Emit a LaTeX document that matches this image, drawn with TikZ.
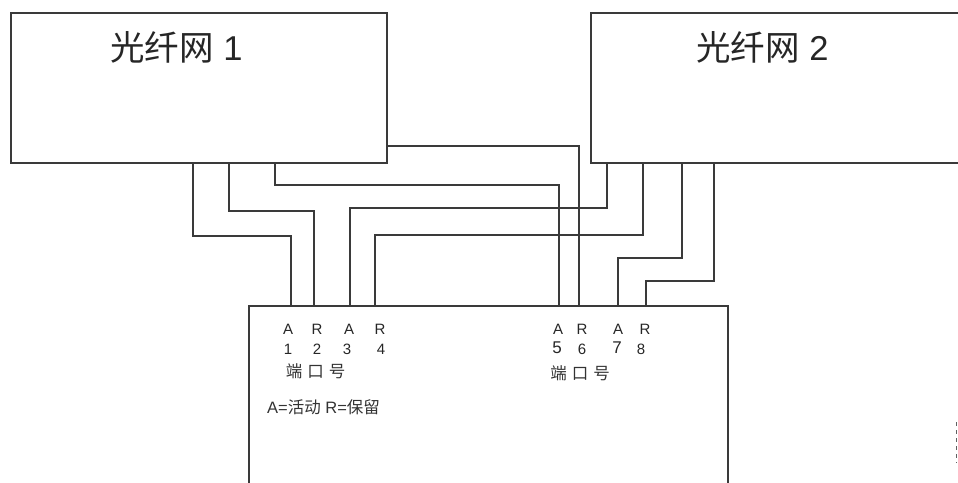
\documentclass[tikz,border=0pt]{standalone}
\usepackage{fontspec}
\setmainfont{Liberation Sans}
\newfontfamily\cjk{Noto Sans CJK SC}
\usetikzlibrary{positioning,calc}
\definecolor{ln}{HTML}{3A3A3A}
\tikzset{
  boxnode/.style={draw=ln, line width=1.2pt, rectangle, inner sep=0pt},
  wire/.style={draw=ln, line width=1.2pt},
  title/.style={font=\fontsize{34.5}{38}\selectfont, text=black!85, inner sep=0pt},
  portlbl/.style={font=\fontsize{15}{17}\selectfont, text=black!85, inner sep=0pt},
  cjklbl/.style={font=\fontsize{16.5}{18}\selectfont, text=black!80, inner sep=0pt},
}
\begin{document}
\begin{tikzpicture}[x=1pt,y=-1pt]
\useasboundingbox (0,0) rectangle (958,482);
\clip (0,0) rectangle (958,482);
% boxes
\node[boxnode, minimum width=376pt, minimum height=150pt] (net1) at (199,88) {};
\node[boxnode, minimum width=409pt, minimum height=150pt] (net2) at (795.5,88) {};
\node[boxnode, minimum width=479pt, minimum height=214pt] (sw) at (488.5,413) {};
% titles
\node[title] (t1) at (176.5,47) {{\cjk 光纤网} 1};
\node[title] (t2) at (762.5,47) {{\cjk 光纤网} 2};
% start points
\coordinate (a1) at (193,163);
\coordinate (a2) at (229,163);
\coordinate (a3) at (275,163);
\coordinate (a4) at (387,146);
\coordinate (b1) at (607,163);
\coordinate (b2) at (643,163);
\coordinate (b3) at (682,163);
\coordinate (b4) at (714,163);
% ports
\coordinate (p1) at (291,306);
\coordinate (p2) at (314,306);
\coordinate (p3) at (350,306);
\coordinate (p4) at (375,306);
\coordinate (p5) at (559,306);
\coordinate (p6) at (579,306);
\coordinate (p7) at (618,306);
\coordinate (p8) at (646,306);
% wires
\draw[wire] (a1) -- ++(0,73) -| (p1);
\draw[wire] (a2) -- ++(0,48) -| (p2);
\draw[wire] (a3) -- ++(0,22) -| (p5);
\draw[wire] (a4) -| (p6);
\draw[wire] (b1) -- ++(0,45) -| (p3);
\draw[wire] (b2) -- ++(0,72) -| (p4);
\draw[wire] (b3) -- ++(0,95) -| (p7);
\draw[wire] (b4) -- ++(0,118) -| (p8);
% port labels
\node[portlbl] (l1a) at (288,329) {A};
\node[portlbl] (l2a) at (317,329) {R};
\node[portlbl] (l3a) at (349,329) {A};
\node[portlbl] (l4a) at (380,329) {R};
\node[portlbl] (l1n) at (288,349) {1};
\node[portlbl] (l2n) at (317,349) {2};
\node[portlbl] (l3n) at (347,349) {3};
\node[portlbl] (l4n) at (381,349) {4};
\node[portlbl] (l5a) at (558,329) {A};
\node[portlbl] (l6a) at (582,329) {R};
\node[portlbl] (l7a) at (618,329) {A};
\node[portlbl] (l8a) at (645,329) {R};
\node[portlbl, font=\fontsize{17}{19}\selectfont] (l5n) at (557,348) {5};
\node[portlbl] (l6n) at (582,349) {6};
\node[portlbl, font=\fontsize{17}{19}\selectfont] (l7n) at (617,348) {7};
\node[portlbl] (l8n) at (641,349) {8};
\node[cjklbl] (pn1) at (315.5,371) {\cjk 端\hspace{5pt}口\hspace{5pt}号};
\node[cjklbl] (pn2) at (580,373) {\cjk 端\hspace{5pt}口\hspace{5pt}号};
\node[cjklbl, anchor=west] (key) at (267,407) {A={\cjk 活动} R={\cjk 保留}};
% edge mark
\draw[ln!80, line width=1.2pt, dash pattern=on 4pt off 4pt] (956.5,422) -- (956.5,463);
\end{tikzpicture}
\end{document}
